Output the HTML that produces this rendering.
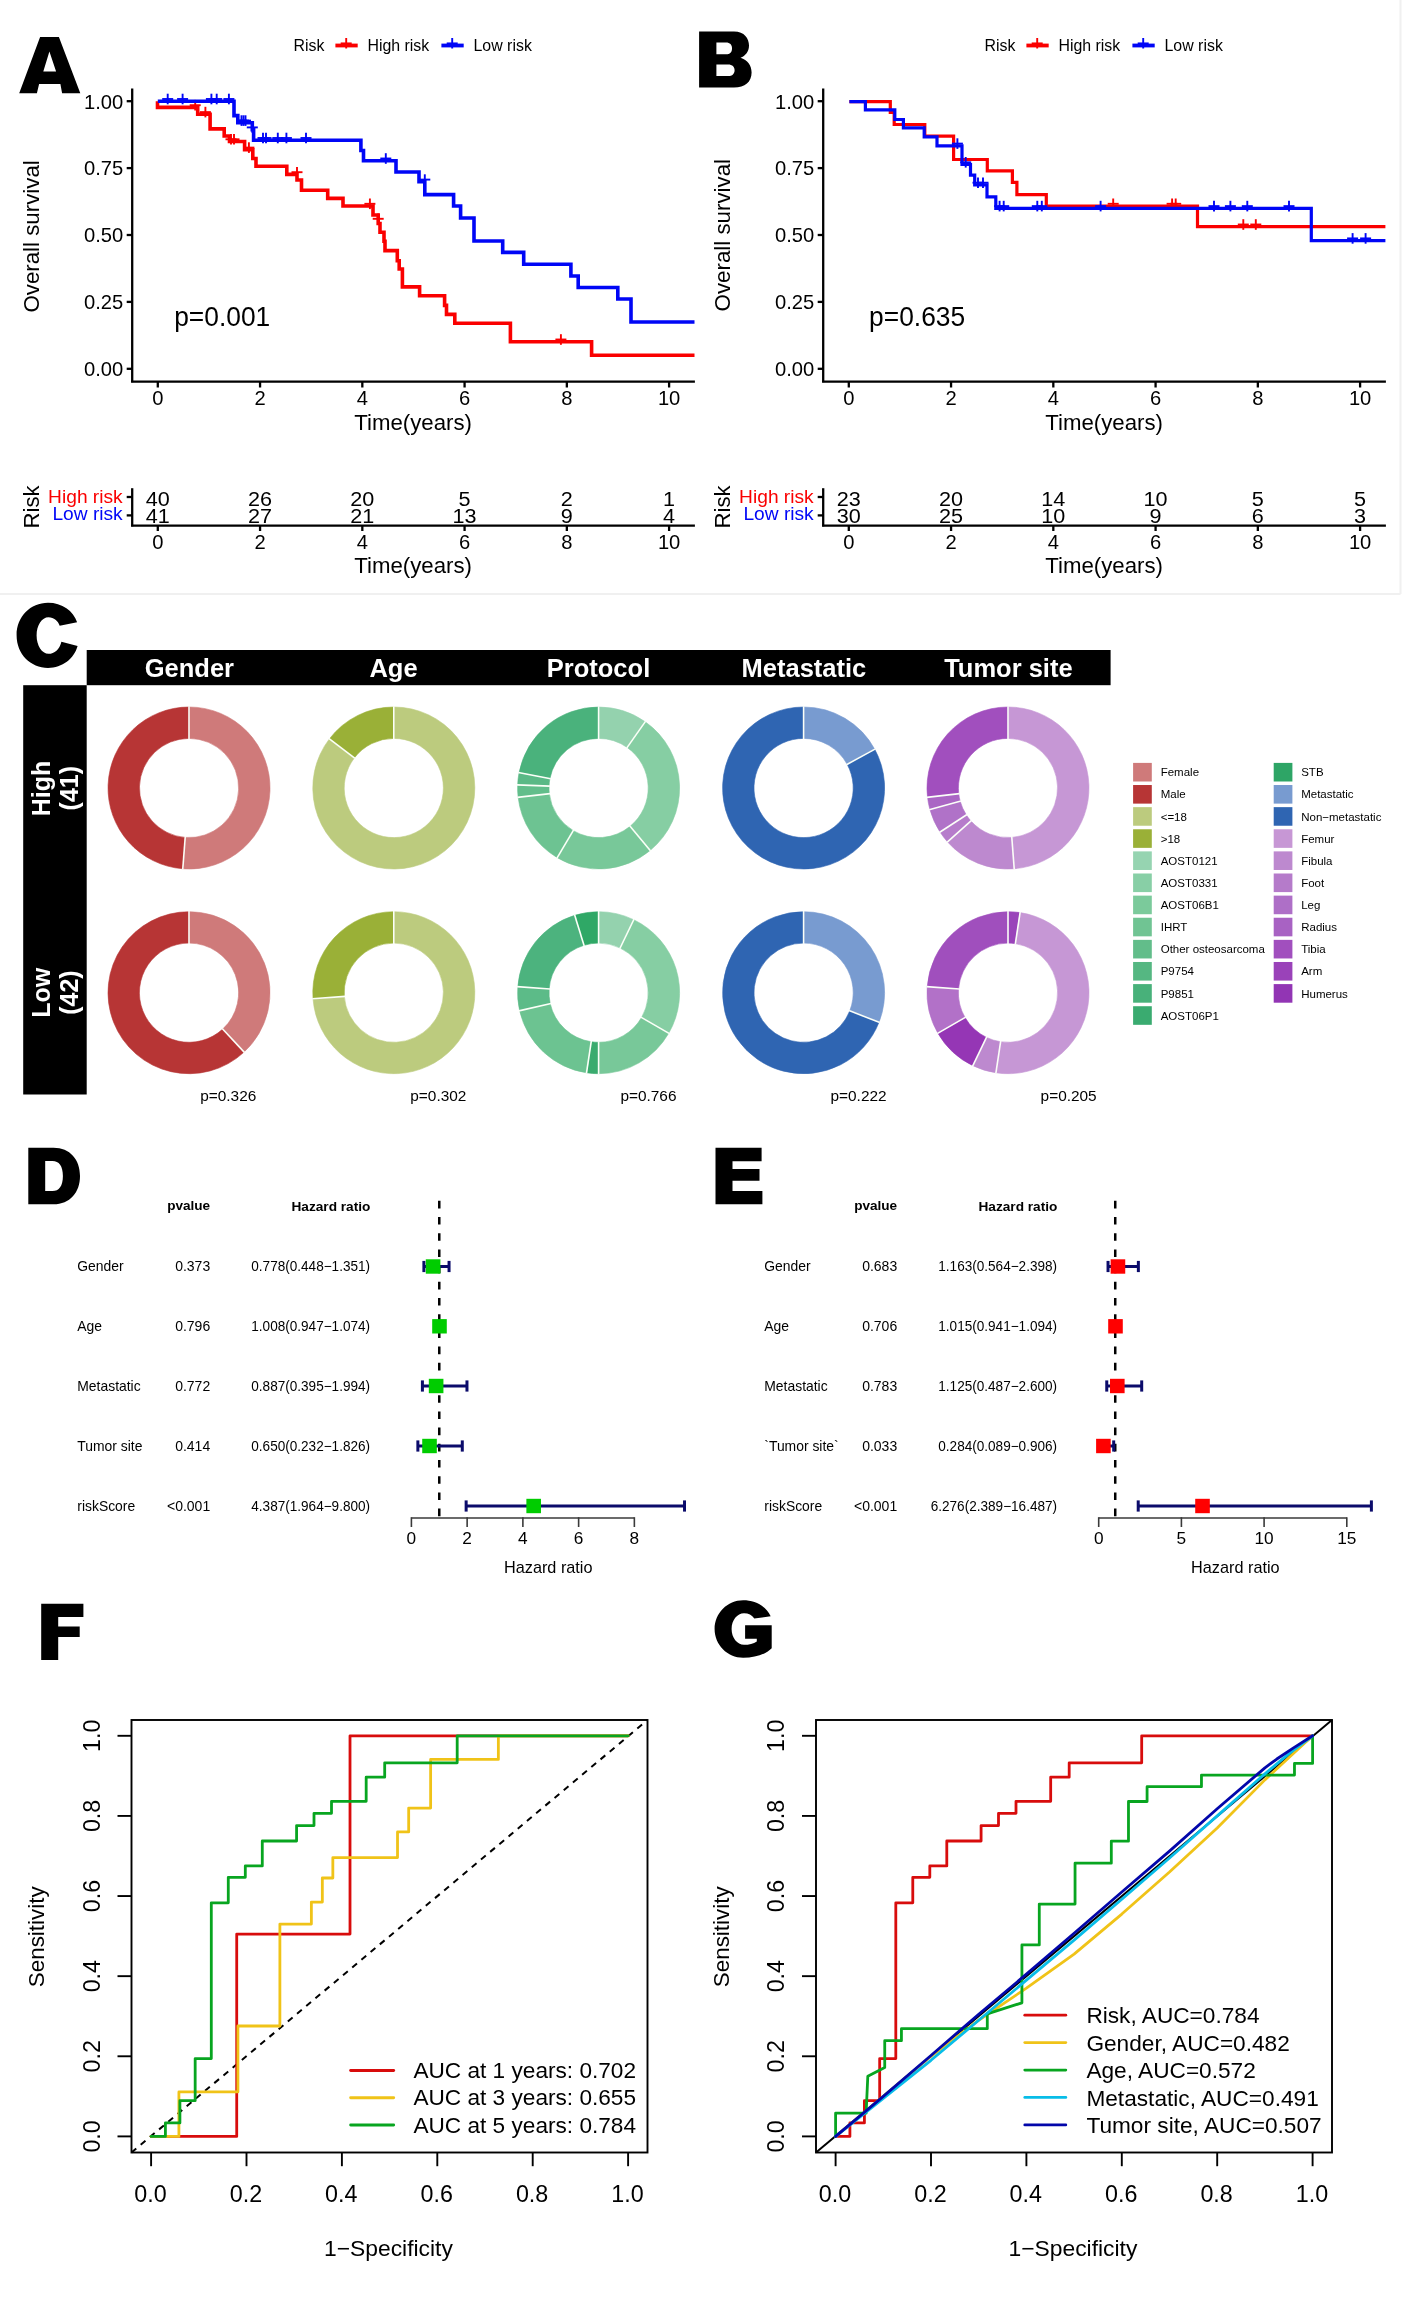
<!DOCTYPE html>
<html><head><meta charset="utf-8"><title>Figure</title>
<style>html,body{margin:0;padding:0;background:#fff;}svg{display:block;will-change:transform;}
text{font-family:"Liberation Sans",sans-serif;}</style></head>
<body><svg width="1408" height="2312" viewBox="0 0 1408 2312">
<rect width="1408" height="2312" fill="#fff"/>
<path d="M19.2,93.2 L40.1,37 L58.9,37 L80.3,93.2 L62.1,93.2 L60.4,83.9 L39.1,83.9 L36.9,93.2 Z M49.4,51.6 L43.3,71.5 L56.1,71.5 Z" fill="#000" fill-rule="evenodd"/>
<path d="M699.1,31.4 H734 C744.5,31.4 749,38.5 749,45.5 C749,51.5 745.5,55.8 740.5,57.8 C747.5,59.8 751.6,65.5 751.6,72.5 C751.6,82 745,87.5 734,87.5 H699.1 Z M716.4,42.6 V54.2 H726 C730,54.2 732,52 732,48.4 C732,44.8 730,42.6 726,42.6 Z M716.4,64.4 V76.1 H728 C732.5,76.1 734.6,73.5 734.6,70.2 C734.6,66.8 732.5,64.4 728,64.4 Z" fill="#000" fill-rule="evenodd"/>
<path d="M77.1,622.3 C73.5,611 62,602.8 48,602.8 C30.5,602.8 16.6,616.5 16.6,635.35 C16.6,654.5 30.5,667.9 48,667.9 C62.5,667.9 74,659 77.6,646.1 L61.4,641.7 C59.5,649.5 54.5,653.8 48.5,653.8 C41.9,653.8 36.6,645.6 36.6,635.5 C36.6,625.4 41.9,617.3 48.5,617.3 C54,617.3 58,621 59.7,625.7 Z" fill="#000"/>
<path d="M28.3,1147.8 H53.5 C70,1147.8 80,1159.5 80,1176 C80,1192.5 70,1204.3 53.5,1204.3 H28.3 Z M45.2,1161 V1191.1 H52.5 C59,1191.1 62.9,1186 62.9,1176 C62.9,1166 59,1161 52.5,1161 Z" fill="#000" fill-rule="evenodd"/>
<path d="M715.5,1147.8 H761.6 V1161.2 H732.5 V1169.1 H759.5 V1180.8 H732.5 V1191 H762.4 V1204.3 H715.5 Z" fill="#000"/>
<path d="M41.2,1603.8 H83.4 V1617 H58.2 V1626.6 H79.7 V1636.9 H58.2 V1660 H41.2 Z" fill="#000"/>
<path d="M770.7,1616.3 C766,1606 755,1600.3 743.15,1600.3 C727.4,1600.3 714.6,1613.2 714.6,1629.05 C714.6,1644.9 727.4,1657.8 743.15,1657.8 C756,1657.8 766,1654 771.7,1648.2 V1625.2 H745.1 V1638.7 H756.8 V1641.5 C753.5,1644 749,1644.8 744,1644.8 C737.2,1644.8 731.6,1637.8 731.6,1629 C731.6,1620.2 737.2,1613.2 744,1613.2 C748.5,1613.2 752,1615 754.3,1618.4 Z" fill="#000"/>
<line x1="132.2" y1="88.5" x2="132.2" y2="382.3" stroke="#000" stroke-width="2.3"/>
<line x1="131.1" y1="381.6" x2="694.9" y2="381.6" stroke="#000" stroke-width="2.3"/>
<line x1="126.7" y1="101.2" x2="132.2" y2="101.2" stroke="#000" stroke-width="2.3"/>
<text transform="translate(123.2,108.5) scale(1.02,1)" font-size="19.8" text-anchor="end">1.00</text>
<line x1="126.7" y1="168.1" x2="132.2" y2="168.1" stroke="#000" stroke-width="2.3"/>
<text transform="translate(123.2,175.4) scale(1.02,1)" font-size="19.8" text-anchor="end">0.75</text>
<line x1="126.7" y1="235" x2="132.2" y2="235" stroke="#000" stroke-width="2.3"/>
<text transform="translate(123.2,242.3) scale(1.02,1)" font-size="19.8" text-anchor="end">0.50</text>
<line x1="126.7" y1="301.9" x2="132.2" y2="301.9" stroke="#000" stroke-width="2.3"/>
<text transform="translate(123.2,309.2) scale(1.02,1)" font-size="19.8" text-anchor="end">0.25</text>
<line x1="126.7" y1="368.8" x2="132.2" y2="368.8" stroke="#000" stroke-width="2.3"/>
<text transform="translate(123.2,376.1) scale(1.02,1)" font-size="19.8" text-anchor="end">0.00</text>
<line x1="157.8" y1="381.6" x2="157.8" y2="387.5" stroke="#000" stroke-width="2.3"/>
<text transform="translate(157.8,404.8) scale(1.02,1)" font-size="19.8" text-anchor="middle">0</text>
<line x1="260.06" y1="381.6" x2="260.06" y2="387.5" stroke="#000" stroke-width="2.3"/>
<text transform="translate(260.06,404.8) scale(1.02,1)" font-size="19.8" text-anchor="middle">2</text>
<line x1="362.32" y1="381.6" x2="362.32" y2="387.5" stroke="#000" stroke-width="2.3"/>
<text transform="translate(362.32,404.8) scale(1.02,1)" font-size="19.8" text-anchor="middle">4</text>
<line x1="464.58" y1="381.6" x2="464.58" y2="387.5" stroke="#000" stroke-width="2.3"/>
<text transform="translate(464.58,404.8) scale(1.02,1)" font-size="19.8" text-anchor="middle">6</text>
<line x1="566.84" y1="381.6" x2="566.84" y2="387.5" stroke="#000" stroke-width="2.3"/>
<text transform="translate(566.84,404.8) scale(1.02,1)" font-size="19.8" text-anchor="middle">8</text>
<line x1="669.1" y1="381.6" x2="669.1" y2="387.5" stroke="#000" stroke-width="2.3"/>
<text transform="translate(669.1,404.8) scale(1.02,1)" font-size="19.8" text-anchor="middle">10</text>
<text transform="translate(413.05,429.9) scale(1.01,1)" font-size="22" text-anchor="middle">Time(years)</text>
<text transform="translate(38.7,236.4) rotate(-90)" font-size="22.3" text-anchor="middle">Overall survival</text>
<text transform="translate(293.5,51.3) scale(1.02,1)" font-size="15.6">Risk</text>
<line x1="335.4" y1="45.5" x2="357.7" y2="45.5" stroke="#fa0000" stroke-width="3.8"/>
<line x1="346.2" y1="38" x2="346.2" y2="48.5" stroke="#fa0000" stroke-width="1.9"/>
<line x1="340.7" y1="43.4" x2="351.7" y2="43.4" stroke="#fa0000" stroke-width="1.9"/>
<text transform="translate(367.4,51.3) scale(1.02,1)" font-size="15.6">High risk</text>
<line x1="441.4" y1="45.5" x2="463.7" y2="45.5" stroke="#0006f6" stroke-width="3.8"/>
<line x1="452.2" y1="38" x2="452.2" y2="48.5" stroke="#0006f6" stroke-width="1.9"/>
<line x1="446.7" y1="43.4" x2="457.7" y2="43.4" stroke="#0006f6" stroke-width="1.9"/>
<text transform="translate(473.5,51.3) scale(1.02,1)" font-size="15.6">Low risk</text>
<line x1="132.2" y1="488.2" x2="132.2" y2="526.4" stroke="#000" stroke-width="2.3"/>
<line x1="131.1" y1="525.7" x2="694.9" y2="525.7" stroke="#000" stroke-width="2.3"/>
<line x1="126.7" y1="497" x2="132.2" y2="497" stroke="#000" stroke-width="2.3"/>
<line x1="126.7" y1="515.4" x2="132.2" y2="515.4" stroke="#000" stroke-width="2.3"/>
<text transform="translate(122.7,503.3) scale(1.01,1)" font-size="19" text-anchor="end" fill="#fa0000">High risk</text>
<text transform="translate(122.7,520.4) scale(1.01,1)" font-size="19" text-anchor="end" fill="#0006f6">Low risk</text>
<text transform="translate(38.7,506.9) rotate(-90)" font-size="22.2" text-anchor="middle">Risk</text>
<text transform="translate(157.8,505.6) scale(1.03,1)" font-size="21" text-anchor="middle">40</text>
<text transform="translate(157.8,523.1) scale(1.03,1)" font-size="21" text-anchor="middle">41</text>
<line x1="157.8" y1="525.7" x2="157.8" y2="531" stroke="#000" stroke-width="2.3"/>
<text transform="translate(157.8,548.8) scale(1.02,1)" font-size="19.8" text-anchor="middle">0</text>
<text transform="translate(260.06,505.6) scale(1.03,1)" font-size="21" text-anchor="middle">26</text>
<text transform="translate(260.06,523.1) scale(1.03,1)" font-size="21" text-anchor="middle">27</text>
<line x1="260.06" y1="525.7" x2="260.06" y2="531" stroke="#000" stroke-width="2.3"/>
<text transform="translate(260.06,548.8) scale(1.02,1)" font-size="19.8" text-anchor="middle">2</text>
<text transform="translate(362.32,505.6) scale(1.03,1)" font-size="21" text-anchor="middle">20</text>
<text transform="translate(362.32,523.1) scale(1.03,1)" font-size="21" text-anchor="middle">21</text>
<line x1="362.32" y1="525.7" x2="362.32" y2="531" stroke="#000" stroke-width="2.3"/>
<text transform="translate(362.32,548.8) scale(1.02,1)" font-size="19.8" text-anchor="middle">4</text>
<text transform="translate(464.58,505.6) scale(1.03,1)" font-size="21" text-anchor="middle">5</text>
<text transform="translate(464.58,523.1) scale(1.03,1)" font-size="21" text-anchor="middle">13</text>
<line x1="464.58" y1="525.7" x2="464.58" y2="531" stroke="#000" stroke-width="2.3"/>
<text transform="translate(464.58,548.8) scale(1.02,1)" font-size="19.8" text-anchor="middle">6</text>
<text transform="translate(566.84,505.6) scale(1.03,1)" font-size="21" text-anchor="middle">2</text>
<text transform="translate(566.84,523.1) scale(1.03,1)" font-size="21" text-anchor="middle">9</text>
<line x1="566.84" y1="525.7" x2="566.84" y2="531" stroke="#000" stroke-width="2.3"/>
<text transform="translate(566.84,548.8) scale(1.02,1)" font-size="19.8" text-anchor="middle">8</text>
<text transform="translate(669.1,505.6) scale(1.03,1)" font-size="21" text-anchor="middle">1</text>
<text transform="translate(669.1,523.1) scale(1.03,1)" font-size="21" text-anchor="middle">4</text>
<line x1="669.1" y1="525.7" x2="669.1" y2="531" stroke="#000" stroke-width="2.3"/>
<text transform="translate(669.1,548.8) scale(1.02,1)" font-size="19.8" text-anchor="middle">10</text>
<text transform="translate(413.05,572.6) scale(1.01,1)" font-size="22" text-anchor="middle">Time(years)</text>
<text transform="translate(174.2,325.6) scale(0.97,1)" font-size="27.2">p=0.001</text>
<polyline points="157.5,101.2 157.5,107.4 197.7,107.4 197.7,114.3 210.1,114.3 210.1,128.9 224.2,128.9 224.2,136 229.5,136 229.5,141.5 244.6,141.5 244.6,149.8 252.8,149.8 252.8,158.5 256,158.5 256,166.3 286.8,166.3 286.8,174.4 297,174.4 297,180 301.5,180 301.5,190.3 327.7,190.3 327.7,198.4 343,198.4 343,206 373,206 373,215 378.2,215 378.2,223.5 380,223.5 380,232.3 384,232.3 384,241.2 385,241.2 385,250.6 397.3,250.6 397.3,260.7 399.2,260.7 399.2,269 402.4,269 402.4,286.9 419.6,286.9 419.6,295.8 444.6,295.8 444.6,305.4 446.5,305.4 446.5,314.4 454.8,314.4 454.8,323.3 510.4,323.3 510.4,341.7 591.6,341.7 591.6,355.3 694.5,355.3 694.5,355.3" fill="none" stroke="#fa0000" stroke-width="3.6" stroke-linejoin="miter"/>
<line x1="195.2" y1="99.9" x2="195.2" y2="110.5" stroke="#fa0000" stroke-width="1.9"/>
<line x1="189.7" y1="105.2" x2="200.7" y2="105.2" stroke="#fa0000" stroke-width="1.9"/>
<line x1="205.4" y1="106.8" x2="205.4" y2="117.4" stroke="#fa0000" stroke-width="1.9"/>
<line x1="199.9" y1="112.1" x2="210.9" y2="112.1" stroke="#fa0000" stroke-width="1.9"/>
<line x1="231" y1="134" x2="231" y2="144.6" stroke="#fa0000" stroke-width="1.9"/>
<line x1="225.5" y1="139.3" x2="236.5" y2="139.3" stroke="#fa0000" stroke-width="1.9"/>
<line x1="234" y1="134" x2="234" y2="144.6" stroke="#fa0000" stroke-width="1.9"/>
<line x1="228.5" y1="139.3" x2="239.5" y2="139.3" stroke="#fa0000" stroke-width="1.9"/>
<line x1="248.9" y1="142.3" x2="248.9" y2="152.9" stroke="#fa0000" stroke-width="1.9"/>
<line x1="243.4" y1="147.6" x2="254.4" y2="147.6" stroke="#fa0000" stroke-width="1.9"/>
<line x1="297" y1="166.9" x2="297" y2="177.5" stroke="#fa0000" stroke-width="1.9"/>
<line x1="291.5" y1="172.2" x2="302.5" y2="172.2" stroke="#fa0000" stroke-width="1.9"/>
<line x1="369.9" y1="198.5" x2="369.9" y2="209.1" stroke="#fa0000" stroke-width="1.9"/>
<line x1="364.4" y1="203.8" x2="375.4" y2="203.8" stroke="#fa0000" stroke-width="1.9"/>
<line x1="378.2" y1="213.5" x2="378.2" y2="224.1" stroke="#fa0000" stroke-width="1.9"/>
<line x1="372.7" y1="218.8" x2="383.7" y2="218.8" stroke="#fa0000" stroke-width="1.9"/>
<line x1="560.9" y1="334.2" x2="560.9" y2="344.8" stroke="#fa0000" stroke-width="1.9"/>
<line x1="555.4" y1="339.5" x2="566.4" y2="339.5" stroke="#fa0000" stroke-width="1.9"/>
<polyline points="157.8,101.2 234,101.2 234,115.6 237.8,115.6 237.8,122.8 252.3,122.8 252.3,129.6 253.6,129.6 253.6,140.2 360.9,140.2 360.9,150.5 363.5,150.5 363.5,160.7 396,160.7 396,172 419,172 419,181.8 424.8,181.8 424.8,194.6 453.6,194.6 453.6,206 460.6,206 460.6,218 474,218 474,241 502.7,241 502.7,252.4 523.7,252.4 523.7,264.2 570.9,264.2 570.9,276 578.2,276 578.2,287.5 617.8,287.5 617.8,299 631,299 631,322 694.5,322 694.5,322" fill="none" stroke="#0006f6" stroke-width="3.6" stroke-linejoin="miter"/>
<line x1="167.7" y1="93.7" x2="167.7" y2="104.3" stroke="#0006f6" stroke-width="1.9"/>
<line x1="162.2" y1="99" x2="173.2" y2="99" stroke="#0006f6" stroke-width="1.9"/>
<line x1="182.6" y1="93.7" x2="182.6" y2="104.3" stroke="#0006f6" stroke-width="1.9"/>
<line x1="177.1" y1="99" x2="188.1" y2="99" stroke="#0006f6" stroke-width="1.9"/>
<line x1="211.4" y1="93.7" x2="211.4" y2="104.3" stroke="#0006f6" stroke-width="1.9"/>
<line x1="205.9" y1="99" x2="216.9" y2="99" stroke="#0006f6" stroke-width="1.9"/>
<line x1="216.7" y1="93.7" x2="216.7" y2="104.3" stroke="#0006f6" stroke-width="1.9"/>
<line x1="211.2" y1="99" x2="222.2" y2="99" stroke="#0006f6" stroke-width="1.9"/>
<line x1="228.9" y1="93.7" x2="228.9" y2="104.3" stroke="#0006f6" stroke-width="1.9"/>
<line x1="223.4" y1="99" x2="234.4" y2="99" stroke="#0006f6" stroke-width="1.9"/>
<line x1="241.5" y1="115.3" x2="241.5" y2="125.9" stroke="#0006f6" stroke-width="1.9"/>
<line x1="236" y1="120.6" x2="247" y2="120.6" stroke="#0006f6" stroke-width="1.9"/>
<line x1="243.5" y1="115.3" x2="243.5" y2="125.9" stroke="#0006f6" stroke-width="1.9"/>
<line x1="238" y1="120.6" x2="249" y2="120.6" stroke="#0006f6" stroke-width="1.9"/>
<line x1="245.5" y1="115.3" x2="245.5" y2="125.9" stroke="#0006f6" stroke-width="1.9"/>
<line x1="240" y1="120.6" x2="251" y2="120.6" stroke="#0006f6" stroke-width="1.9"/>
<line x1="252.3" y1="122.1" x2="252.3" y2="132.7" stroke="#0006f6" stroke-width="1.9"/>
<line x1="246.8" y1="127.4" x2="257.8" y2="127.4" stroke="#0006f6" stroke-width="1.9"/>
<line x1="263" y1="132.7" x2="263" y2="143.3" stroke="#0006f6" stroke-width="1.9"/>
<line x1="257.5" y1="138" x2="268.5" y2="138" stroke="#0006f6" stroke-width="1.9"/>
<line x1="266" y1="132.7" x2="266" y2="143.3" stroke="#0006f6" stroke-width="1.9"/>
<line x1="260.5" y1="138" x2="271.5" y2="138" stroke="#0006f6" stroke-width="1.9"/>
<line x1="277.8" y1="132.7" x2="277.8" y2="143.3" stroke="#0006f6" stroke-width="1.9"/>
<line x1="272.3" y1="138" x2="283.3" y2="138" stroke="#0006f6" stroke-width="1.9"/>
<line x1="286.4" y1="132.7" x2="286.4" y2="143.3" stroke="#0006f6" stroke-width="1.9"/>
<line x1="280.9" y1="138" x2="291.9" y2="138" stroke="#0006f6" stroke-width="1.9"/>
<line x1="306" y1="132.7" x2="306" y2="143.3" stroke="#0006f6" stroke-width="1.9"/>
<line x1="300.5" y1="138" x2="311.5" y2="138" stroke="#0006f6" stroke-width="1.9"/>
<line x1="385.8" y1="153.2" x2="385.8" y2="163.8" stroke="#0006f6" stroke-width="1.9"/>
<line x1="380.3" y1="158.5" x2="391.3" y2="158.5" stroke="#0006f6" stroke-width="1.9"/>
<line x1="424.8" y1="174.3" x2="424.8" y2="184.9" stroke="#0006f6" stroke-width="1.9"/>
<line x1="419.3" y1="179.6" x2="430.3" y2="179.6" stroke="#0006f6" stroke-width="1.9"/>
<line x1="823.2" y1="88.5" x2="823.2" y2="382.3" stroke="#000" stroke-width="2.3"/>
<line x1="822.1" y1="381.6" x2="1385.9" y2="381.6" stroke="#000" stroke-width="2.3"/>
<line x1="817.7" y1="101.2" x2="823.2" y2="101.2" stroke="#000" stroke-width="2.3"/>
<text transform="translate(814.2,108.5) scale(1.02,1)" font-size="19.8" text-anchor="end">1.00</text>
<line x1="817.7" y1="168.1" x2="823.2" y2="168.1" stroke="#000" stroke-width="2.3"/>
<text transform="translate(814.2,175.4) scale(1.02,1)" font-size="19.8" text-anchor="end">0.75</text>
<line x1="817.7" y1="235" x2="823.2" y2="235" stroke="#000" stroke-width="2.3"/>
<text transform="translate(814.2,242.3) scale(1.02,1)" font-size="19.8" text-anchor="end">0.50</text>
<line x1="817.7" y1="301.9" x2="823.2" y2="301.9" stroke="#000" stroke-width="2.3"/>
<text transform="translate(814.2,309.2) scale(1.02,1)" font-size="19.8" text-anchor="end">0.25</text>
<line x1="817.7" y1="368.8" x2="823.2" y2="368.8" stroke="#000" stroke-width="2.3"/>
<text transform="translate(814.2,376.1) scale(1.02,1)" font-size="19.8" text-anchor="end">0.00</text>
<line x1="848.8" y1="381.6" x2="848.8" y2="387.5" stroke="#000" stroke-width="2.3"/>
<text transform="translate(848.8,404.8) scale(1.02,1)" font-size="19.8" text-anchor="middle">0</text>
<line x1="951.06" y1="381.6" x2="951.06" y2="387.5" stroke="#000" stroke-width="2.3"/>
<text transform="translate(951.06,404.8) scale(1.02,1)" font-size="19.8" text-anchor="middle">2</text>
<line x1="1053.32" y1="381.6" x2="1053.32" y2="387.5" stroke="#000" stroke-width="2.3"/>
<text transform="translate(1053.32,404.8) scale(1.02,1)" font-size="19.8" text-anchor="middle">4</text>
<line x1="1155.58" y1="381.6" x2="1155.58" y2="387.5" stroke="#000" stroke-width="2.3"/>
<text transform="translate(1155.58,404.8) scale(1.02,1)" font-size="19.8" text-anchor="middle">6</text>
<line x1="1257.84" y1="381.6" x2="1257.84" y2="387.5" stroke="#000" stroke-width="2.3"/>
<text transform="translate(1257.84,404.8) scale(1.02,1)" font-size="19.8" text-anchor="middle">8</text>
<line x1="1360.1" y1="381.6" x2="1360.1" y2="387.5" stroke="#000" stroke-width="2.3"/>
<text transform="translate(1360.1,404.8) scale(1.02,1)" font-size="19.8" text-anchor="middle">10</text>
<text transform="translate(1104.05,429.9) scale(1.01,1)" font-size="22" text-anchor="middle">Time(years)</text>
<text transform="translate(729.7,235.2) rotate(-90)" font-size="22.3" text-anchor="middle">Overall survival</text>
<text transform="translate(984.5,51.3) scale(1.02,1)" font-size="15.6">Risk</text>
<line x1="1026.4" y1="45.5" x2="1048.7" y2="45.5" stroke="#fa0000" stroke-width="3.8"/>
<line x1="1037.2" y1="38" x2="1037.2" y2="48.5" stroke="#fa0000" stroke-width="1.9"/>
<line x1="1031.7" y1="43.4" x2="1042.7" y2="43.4" stroke="#fa0000" stroke-width="1.9"/>
<text transform="translate(1058.4,51.3) scale(1.02,1)" font-size="15.6">High risk</text>
<line x1="1132.4" y1="45.5" x2="1154.7" y2="45.5" stroke="#0006f6" stroke-width="3.8"/>
<line x1="1143.2" y1="38" x2="1143.2" y2="48.5" stroke="#0006f6" stroke-width="1.9"/>
<line x1="1137.7" y1="43.4" x2="1148.7" y2="43.4" stroke="#0006f6" stroke-width="1.9"/>
<text transform="translate(1164.5,51.3) scale(1.02,1)" font-size="15.6">Low risk</text>
<line x1="823.2" y1="488.2" x2="823.2" y2="526.4" stroke="#000" stroke-width="2.3"/>
<line x1="822.1" y1="525.7" x2="1385.9" y2="525.7" stroke="#000" stroke-width="2.3"/>
<line x1="817.7" y1="497" x2="823.2" y2="497" stroke="#000" stroke-width="2.3"/>
<line x1="817.7" y1="515.4" x2="823.2" y2="515.4" stroke="#000" stroke-width="2.3"/>
<text transform="translate(813.7,503.3) scale(1.01,1)" font-size="19" text-anchor="end" fill="#fa0000">High risk</text>
<text transform="translate(813.7,520.4) scale(1.01,1)" font-size="19" text-anchor="end" fill="#0006f6">Low risk</text>
<text transform="translate(729.7,506.9) rotate(-90)" font-size="22.2" text-anchor="middle">Risk</text>
<text transform="translate(848.8,505.6) scale(1.03,1)" font-size="21" text-anchor="middle">23</text>
<text transform="translate(848.8,523.1) scale(1.03,1)" font-size="21" text-anchor="middle">30</text>
<line x1="848.8" y1="525.7" x2="848.8" y2="531" stroke="#000" stroke-width="2.3"/>
<text transform="translate(848.8,548.8) scale(1.02,1)" font-size="19.8" text-anchor="middle">0</text>
<text transform="translate(951.06,505.6) scale(1.03,1)" font-size="21" text-anchor="middle">20</text>
<text transform="translate(951.06,523.1) scale(1.03,1)" font-size="21" text-anchor="middle">25</text>
<line x1="951.06" y1="525.7" x2="951.06" y2="531" stroke="#000" stroke-width="2.3"/>
<text transform="translate(951.06,548.8) scale(1.02,1)" font-size="19.8" text-anchor="middle">2</text>
<text transform="translate(1053.32,505.6) scale(1.03,1)" font-size="21" text-anchor="middle">14</text>
<text transform="translate(1053.32,523.1) scale(1.03,1)" font-size="21" text-anchor="middle">10</text>
<line x1="1053.32" y1="525.7" x2="1053.32" y2="531" stroke="#000" stroke-width="2.3"/>
<text transform="translate(1053.32,548.8) scale(1.02,1)" font-size="19.8" text-anchor="middle">4</text>
<text transform="translate(1155.58,505.6) scale(1.03,1)" font-size="21" text-anchor="middle">10</text>
<text transform="translate(1155.58,523.1) scale(1.03,1)" font-size="21" text-anchor="middle">9</text>
<line x1="1155.58" y1="525.7" x2="1155.58" y2="531" stroke="#000" stroke-width="2.3"/>
<text transform="translate(1155.58,548.8) scale(1.02,1)" font-size="19.8" text-anchor="middle">6</text>
<text transform="translate(1257.84,505.6) scale(1.03,1)" font-size="21" text-anchor="middle">5</text>
<text transform="translate(1257.84,523.1) scale(1.03,1)" font-size="21" text-anchor="middle">6</text>
<line x1="1257.84" y1="525.7" x2="1257.84" y2="531" stroke="#000" stroke-width="2.3"/>
<text transform="translate(1257.84,548.8) scale(1.02,1)" font-size="19.8" text-anchor="middle">8</text>
<text transform="translate(1360.1,505.6) scale(1.03,1)" font-size="21" text-anchor="middle">5</text>
<text transform="translate(1360.1,523.1) scale(1.03,1)" font-size="21" text-anchor="middle">3</text>
<line x1="1360.1" y1="525.7" x2="1360.1" y2="531" stroke="#000" stroke-width="2.3"/>
<text transform="translate(1360.1,548.8) scale(1.02,1)" font-size="19.8" text-anchor="middle">10</text>
<text transform="translate(1104.05,572.6) scale(1.01,1)" font-size="22" text-anchor="middle">Time(years)</text>
<text transform="translate(869.1,325.6) scale(0.97,1)" font-size="27.2">p=0.635</text>
<polyline points="849.4,101.6 890.3,101.6 890.3,112.5 894.2,112.5 894.2,124.5 924.8,124.5 924.8,136.1 953.6,136.1 953.6,159.5 987.3,159.5 987.3,170.9 1012.4,170.9 1012.4,182.4 1016.9,182.4 1016.9,194.6 1046.3,194.6 1046.3,206 1197.5,206 1197.5,226.7 1385.4,226.7 1385.4,226.7" fill="none" stroke="#fa0000" stroke-width="3.2"/>
<line x1="1113.2" y1="198.5" x2="1113.2" y2="209.1" stroke="#fa0000" stroke-width="1.9"/>
<line x1="1107.7" y1="203.8" x2="1118.7" y2="203.8" stroke="#fa0000" stroke-width="1.9"/>
<line x1="1172.1" y1="198.5" x2="1172.1" y2="209.1" stroke="#fa0000" stroke-width="1.9"/>
<line x1="1166.6" y1="203.8" x2="1177.6" y2="203.8" stroke="#fa0000" stroke-width="1.9"/>
<line x1="1175.7" y1="198.5" x2="1175.7" y2="209.1" stroke="#fa0000" stroke-width="1.9"/>
<line x1="1170.2" y1="203.8" x2="1181.2" y2="203.8" stroke="#fa0000" stroke-width="1.9"/>
<line x1="1243.3" y1="219.2" x2="1243.3" y2="229.8" stroke="#fa0000" stroke-width="1.9"/>
<line x1="1237.8" y1="224.5" x2="1248.8" y2="224.5" stroke="#fa0000" stroke-width="1.9"/>
<line x1="1255.8" y1="219.2" x2="1255.8" y2="229.8" stroke="#fa0000" stroke-width="1.9"/>
<line x1="1250.3" y1="224.5" x2="1261.3" y2="224.5" stroke="#fa0000" stroke-width="1.9"/>
<polyline points="849.4,101.6 865.4,101.6 865.4,109.9 894.8,109.9 894.8,119.5 903.4,119.5 903.4,127.8 924.2,127.8 924.2,136.8 937,136.8 937,145.8 962,145.8 962,164.5 970.5,164.5 970.5,175.2 974.7,175.2 974.7,184.9 987,184.9 987,196.8 995.8,196.8 995.8,208.3 1311.3,208.3 1311.3,240.6 1385.4,240.6 1385.4,240.6" fill="none" stroke="#0006f6" stroke-width="3.2"/>
<line x1="957.4" y1="138.3" x2="957.4" y2="148.9" stroke="#0006f6" stroke-width="1.9"/>
<line x1="951.9" y1="143.6" x2="962.9" y2="143.6" stroke="#0006f6" stroke-width="1.9"/>
<line x1="965.7" y1="157" x2="965.7" y2="167.6" stroke="#0006f6" stroke-width="1.9"/>
<line x1="960.2" y1="162.3" x2="971.2" y2="162.3" stroke="#0006f6" stroke-width="1.9"/>
<line x1="978" y1="177.4" x2="978" y2="188" stroke="#0006f6" stroke-width="1.9"/>
<line x1="972.5" y1="182.7" x2="983.5" y2="182.7" stroke="#0006f6" stroke-width="1.9"/>
<line x1="983" y1="177.4" x2="983" y2="188" stroke="#0006f6" stroke-width="1.9"/>
<line x1="977.5" y1="182.7" x2="988.5" y2="182.7" stroke="#0006f6" stroke-width="1.9"/>
<line x1="999.6" y1="200.8" x2="999.6" y2="211.4" stroke="#0006f6" stroke-width="1.9"/>
<line x1="994.1" y1="206.1" x2="1005.1" y2="206.1" stroke="#0006f6" stroke-width="1.9"/>
<line x1="1003.7" y1="200.8" x2="1003.7" y2="211.4" stroke="#0006f6" stroke-width="1.9"/>
<line x1="998.2" y1="206.1" x2="1009.2" y2="206.1" stroke="#0006f6" stroke-width="1.9"/>
<line x1="1037.3" y1="200.8" x2="1037.3" y2="211.4" stroke="#0006f6" stroke-width="1.9"/>
<line x1="1031.8" y1="206.1" x2="1042.8" y2="206.1" stroke="#0006f6" stroke-width="1.9"/>
<line x1="1041.8" y1="200.8" x2="1041.8" y2="211.4" stroke="#0006f6" stroke-width="1.9"/>
<line x1="1036.3" y1="206.1" x2="1047.3" y2="206.1" stroke="#0006f6" stroke-width="1.9"/>
<line x1="1100.6" y1="200.8" x2="1100.6" y2="211.4" stroke="#0006f6" stroke-width="1.9"/>
<line x1="1095.1" y1="206.1" x2="1106.1" y2="206.1" stroke="#0006f6" stroke-width="1.9"/>
<line x1="1214" y1="200.8" x2="1214" y2="211.4" stroke="#0006f6" stroke-width="1.9"/>
<line x1="1208.5" y1="206.1" x2="1219.5" y2="206.1" stroke="#0006f6" stroke-width="1.9"/>
<line x1="1230.4" y1="200.8" x2="1230.4" y2="211.4" stroke="#0006f6" stroke-width="1.9"/>
<line x1="1224.9" y1="206.1" x2="1235.9" y2="206.1" stroke="#0006f6" stroke-width="1.9"/>
<line x1="1247.3" y1="200.8" x2="1247.3" y2="211.4" stroke="#0006f6" stroke-width="1.9"/>
<line x1="1241.8" y1="206.1" x2="1252.8" y2="206.1" stroke="#0006f6" stroke-width="1.9"/>
<line x1="1289" y1="200.8" x2="1289" y2="211.4" stroke="#0006f6" stroke-width="1.9"/>
<line x1="1283.5" y1="206.1" x2="1294.5" y2="206.1" stroke="#0006f6" stroke-width="1.9"/>
<line x1="1352.6" y1="233.1" x2="1352.6" y2="243.7" stroke="#0006f6" stroke-width="1.9"/>
<line x1="1347.1" y1="238.4" x2="1358.1" y2="238.4" stroke="#0006f6" stroke-width="1.9"/>
<line x1="1365.6" y1="233.1" x2="1365.6" y2="243.7" stroke="#0006f6" stroke-width="1.9"/>
<line x1="1360.1" y1="238.4" x2="1371.1" y2="238.4" stroke="#0006f6" stroke-width="1.9"/>
<line x1="0" y1="593.9" x2="1400.5" y2="593.9" stroke="#f0f0f0" stroke-width="2"/>
<line x1="1400.5" y1="0" x2="1400.5" y2="593.9" stroke="#f0f0f0" stroke-width="2"/>
<path d="M189,707 A81,81 0 1 1 182.8,868.76 L185.2,837.45 A49.6,49.6 0 1 0 189,738.4 Z" fill="#cf7a7a" stroke="#cf7a7a" stroke-width="0.6"/>
<path d="M182.8,868.76 A81,81 0 0 1 189,707 L189,738.4 A49.6,49.6 0 0 0 185.2,837.45 Z" fill="#b73535" stroke="#b73535" stroke-width="0.6"/>
<line x1="189" y1="706.2" x2="189" y2="739.2" stroke="#fbfff8" stroke-width="1.6"/>
<line x1="182.74" y1="869.56" x2="185.26" y2="836.66" stroke="#fbfff8" stroke-width="1.6"/>
<path d="M393.8,707 A81,81 0 1 1 329.38,738.9 L354.35,757.93 A49.6,49.6 0 1 0 393.8,738.4 Z" fill="#bccb7e" stroke="#bccb7e" stroke-width="0.6"/>
<path d="M329.38,738.9 A81,81 0 0 1 393.8,707 L393.8,738.4 A49.6,49.6 0 0 0 354.35,757.93 Z" fill="#9ab037" stroke="#9ab037" stroke-width="0.6"/>
<line x1="393.8" y1="706.2" x2="393.8" y2="739.2" stroke="#fbfff8" stroke-width="1.6"/>
<line x1="328.75" y1="738.41" x2="354.99" y2="758.42" stroke="#fbfff8" stroke-width="1.6"/>
<path d="M598.6,707 A81,81 0 0 1 645.2,721.75 L627.14,747.43 A49.6,49.6 0 0 0 598.6,738.4 Z" fill="#94d2ae" stroke="#94d2ae" stroke-width="0.6"/>
<path d="M645.2,721.75 A81,81 0 0 1 650.14,850.49 L630.16,826.27 A49.6,49.6 0 0 0 627.14,747.43 Z" fill="#86cea3" stroke="#86cea3" stroke-width="0.6"/>
<path d="M650.14,850.49 A81,81 0 0 1 557.21,857.63 L573.25,830.63 A49.6,49.6 0 0 0 630.16,826.27 Z" fill="#78c899" stroke="#78c899" stroke-width="0.6"/>
<path d="M557.21,857.63 A81,81 0 0 1 518.13,797.29 L549.33,793.69 A49.6,49.6 0 0 0 573.25,830.63 Z" fill="#6dc392" stroke="#6dc392" stroke-width="0.6"/>
<path d="M518.13,797.29 A81,81 0 0 1 517.66,784.9 L549.04,786.1 A49.6,49.6 0 0 0 549.33,793.69 Z" fill="#62be8b" stroke="#62be8b" stroke-width="0.6"/>
<path d="M517.66,784.9 A81,81 0 0 1 519.08,772.58 L549.91,778.56 A49.6,49.6 0 0 0 549.04,786.1 Z" fill="#5ab986" stroke="#5ab986" stroke-width="0.6"/>
<path d="M519.08,772.58 A81,81 0 0 1 598.6,707 L598.6,738.4 A49.6,49.6 0 0 0 549.91,778.56 Z" fill="#4ab27c" stroke="#4ab27c" stroke-width="0.6"/>
<line x1="598.6" y1="706.2" x2="598.6" y2="739.2" stroke="#fbfff8" stroke-width="1.6"/>
<line x1="645.66" y1="721.09" x2="626.68" y2="748.09" stroke="#fbfff8" stroke-width="1.6"/>
<line x1="650.64" y1="851.11" x2="629.65" y2="825.65" stroke="#fbfff8" stroke-width="1.6"/>
<line x1="556.8" y1="858.31" x2="573.66" y2="829.95" stroke="#fbfff8" stroke-width="1.6"/>
<line x1="517.34" y1="797.38" x2="550.12" y2="793.6" stroke="#fbfff8" stroke-width="1.6"/>
<line x1="516.86" y1="784.87" x2="549.84" y2="786.13" stroke="#fbfff8" stroke-width="1.6"/>
<line x1="518.3" y1="772.43" x2="550.69" y2="778.71" stroke="#fbfff8" stroke-width="1.6"/>
<path d="M803.6,707 A81,81 0 0 1 874.76,749.3 L847.17,764.31 A49.6,49.6 0 0 0 803.6,738.4 Z" fill="#789bd0" stroke="#789bd0" stroke-width="0.6"/>
<path d="M874.76,749.3 A81,81 0 1 1 803.6,707 L803.6,738.4 A49.6,49.6 0 1 0 847.17,764.31 Z" fill="#2f65b2" stroke="#2f65b2" stroke-width="0.6"/>
<line x1="803.6" y1="706.2" x2="803.6" y2="739.2" stroke="#fbfff8" stroke-width="1.6"/>
<line x1="875.46" y1="748.92" x2="846.47" y2="764.69" stroke="#fbfff8" stroke-width="1.6"/>
<path d="M1008,707 A81,81 0 0 1 1014.2,868.76 L1011.8,837.45 A49.6,49.6 0 0 0 1008,738.4 Z" fill="#c697d5" stroke="#c697d5" stroke-width="0.6"/>
<path d="M1014.2,868.76 A81,81 0 0 1 947.53,841.89 L970.97,821 A49.6,49.6 0 0 0 1011.8,837.45 Z" fill="#bd89cf" stroke="#bd89cf" stroke-width="0.6"/>
<path d="M947.53,841.89 A81,81 0 0 1 940.01,832.03 L966.37,814.96 A49.6,49.6 0 0 0 970.97,821 Z" fill="#b67ccb" stroke="#b67ccb" stroke-width="0.6"/>
<path d="M940.01,832.03 A81,81 0 0 1 929.9,809.46 L960.17,801.14 A49.6,49.6 0 0 0 966.37,814.96 Z" fill="#b072c8" stroke="#b072c8" stroke-width="0.6"/>
<path d="M929.9,809.46 A81,81 0 0 1 927.53,797.29 L958.73,793.69 A49.6,49.6 0 0 0 960.17,801.14 Z" fill="#aa66c4" stroke="#aa66c4" stroke-width="0.6"/>
<path d="M927.53,797.29 A81,81 0 0 1 1008,707 L1008,738.4 A49.6,49.6 0 0 0 958.73,793.69 Z" fill="#a14fbe" stroke="#a14fbe" stroke-width="0.6"/>
<line x1="1008" y1="706.2" x2="1008" y2="739.2" stroke="#fbfff8" stroke-width="1.6"/>
<line x1="1014.26" y1="869.56" x2="1011.74" y2="836.66" stroke="#fbfff8" stroke-width="1.6"/>
<line x1="946.93" y1="842.42" x2="971.57" y2="820.47" stroke="#fbfff8" stroke-width="1.6"/>
<line x1="939.34" y1="832.46" x2="967.04" y2="814.53" stroke="#fbfff8" stroke-width="1.6"/>
<line x1="929.12" y1="809.68" x2="960.94" y2="800.93" stroke="#fbfff8" stroke-width="1.6"/>
<line x1="926.74" y1="797.38" x2="959.52" y2="793.6" stroke="#fbfff8" stroke-width="1.6"/>
<path d="M189,911.7 A81,81 0 0 1 244.09,1052.08 L222.74,1029.06 A49.6,49.6 0 0 0 189,943.1 Z" fill="#cf7a7a" stroke="#cf7a7a" stroke-width="0.6"/>
<path d="M244.09,1052.08 A81,81 0 1 1 189,911.7 L189,943.1 A49.6,49.6 0 1 0 222.74,1029.06 Z" fill="#b73535" stroke="#b73535" stroke-width="0.6"/>
<line x1="189" y1="910.9" x2="189" y2="943.9" stroke="#fbfff8" stroke-width="1.6"/>
<line x1="244.64" y1="1052.66" x2="222.19" y2="1028.47" stroke="#fbfff8" stroke-width="1.6"/>
<path d="M393.8,911.7 A81,81 0 1 1 313.03,998.75 L344.34,996.41 A49.6,49.6 0 1 0 393.8,943.1 Z" fill="#bccb7e" stroke="#bccb7e" stroke-width="0.6"/>
<path d="M313.03,998.75 A81,81 0 0 1 393.8,911.7 L393.8,943.1 A49.6,49.6 0 0 0 344.34,996.41 Z" fill="#9ab037" stroke="#9ab037" stroke-width="0.6"/>
<line x1="393.8" y1="910.9" x2="393.8" y2="943.9" stroke="#fbfff8" stroke-width="1.6"/>
<line x1="312.23" y1="998.81" x2="345.14" y2="996.35" stroke="#fbfff8" stroke-width="1.6"/>
<path d="M598.6,911.7 A81,81 0 0 1 633.74,919.72 L620.12,948.01 A49.6,49.6 0 0 0 598.6,943.1 Z" fill="#94d2ae" stroke="#94d2ae" stroke-width="0.6"/>
<path d="M633.74,919.72 A81,81 0 0 1 668.75,1033.2 L641.55,1017.5 A49.6,49.6 0 0 0 620.12,948.01 Z" fill="#86cea3" stroke="#86cea3" stroke-width="0.6"/>
<path d="M668.75,1033.2 A81,81 0 0 1 598.6,1073.7 L598.6,1042.3 A49.6,49.6 0 0 0 641.55,1017.5 Z" fill="#78c899" stroke="#78c899" stroke-width="0.6"/>
<path d="M598.6,1073.7 A81,81 0 0 1 586.53,1072.8 L591.21,1041.75 A49.6,49.6 0 0 0 598.6,1042.3 Z" fill="#3aab6e" stroke="#3aab6e" stroke-width="0.6"/>
<path d="M586.53,1072.8 A81,81 0 0 1 519.63,1010.72 L550.24,1003.74 A49.6,49.6 0 0 0 591.21,1041.75 Z" fill="#6cc391" stroke="#6cc391" stroke-width="0.6"/>
<path d="M519.63,1010.72 A81,81 0 0 1 517.83,986.65 L549.14,988.99 A49.6,49.6 0 0 0 550.24,1003.74 Z" fill="#5cbb88" stroke="#5cbb88" stroke-width="0.6"/>
<path d="M517.83,986.65 A81,81 0 0 1 574.72,915.3 L583.98,945.3 A49.6,49.6 0 0 0 549.14,988.99 Z" fill="#4cb37e" stroke="#4cb37e" stroke-width="0.6"/>
<path d="M574.72,915.3 A81,81 0 0 1 598.6,911.7 L598.6,943.1 A49.6,49.6 0 0 0 583.98,945.3 Z" fill="#2fa866" stroke="#2fa866" stroke-width="0.6"/>
<line x1="598.6" y1="910.9" x2="598.6" y2="943.9" stroke="#fbfff8" stroke-width="1.6"/>
<line x1="634.09" y1="919" x2="619.77" y2="948.73" stroke="#fbfff8" stroke-width="1.6"/>
<line x1="669.44" y1="1033.6" x2="640.86" y2="1017.1" stroke="#fbfff8" stroke-width="1.6"/>
<line x1="598.6" y1="1074.5" x2="598.6" y2="1041.5" stroke="#fbfff8" stroke-width="1.6"/>
<line x1="586.41" y1="1073.59" x2="591.33" y2="1040.95" stroke="#fbfff8" stroke-width="1.6"/>
<line x1="518.85" y1="1010.9" x2="551.02" y2="1003.56" stroke="#fbfff8" stroke-width="1.6"/>
<line x1="517.03" y1="986.59" x2="549.94" y2="989.05" stroke="#fbfff8" stroke-width="1.6"/>
<line x1="574.49" y1="914.53" x2="584.22" y2="946.07" stroke="#fbfff8" stroke-width="1.6"/>
<path d="M803.6,911.7 A81,81 0 0 1 879,1022.29 L849.77,1010.82 A49.6,49.6 0 0 0 803.6,943.1 Z" fill="#789bd0" stroke="#789bd0" stroke-width="0.6"/>
<path d="M879,1022.29 A81,81 0 1 1 803.6,911.7 L803.6,943.1 A49.6,49.6 0 1 0 849.77,1010.82 Z" fill="#2f65b2" stroke="#2f65b2" stroke-width="0.6"/>
<line x1="803.6" y1="910.9" x2="803.6" y2="943.9" stroke="#fbfff8" stroke-width="1.6"/>
<line x1="879.75" y1="1022.58" x2="849.03" y2="1010.53" stroke="#fbfff8" stroke-width="1.6"/>
<path d="M1008,911.7 A81,81 0 0 1 1020.07,912.6 L1015.39,943.65 A49.6,49.6 0 0 0 1008,943.1 Z" fill="#9a44ba" stroke="#9a44ba" stroke-width="0.6"/>
<path d="M1020.07,912.6 A81,81 0 0 1 995.93,1072.8 L1000.61,1041.75 A49.6,49.6 0 0 0 1015.39,943.65 Z" fill="#c697d5" stroke="#c697d5" stroke-width="0.6"/>
<path d="M995.93,1072.8 A81,81 0 0 1 972.86,1065.68 L986.48,1037.39 A49.6,49.6 0 0 0 1000.61,1041.75 Z" fill="#bd89cf" stroke="#bd89cf" stroke-width="0.6"/>
<path d="M972.86,1065.68 A81,81 0 0 1 937.85,1033.2 L965.05,1017.5 A49.6,49.6 0 0 0 986.48,1037.39 Z" fill="#9536b5" stroke="#9536b5" stroke-width="0.6"/>
<path d="M937.85,1033.2 A81,81 0 0 1 927.23,986.65 L958.54,988.99 A49.6,49.6 0 0 0 965.05,1017.5 Z" fill="#b271c8" stroke="#b271c8" stroke-width="0.6"/>
<path d="M927.23,986.65 A81,81 0 0 1 1008,911.7 L1008,943.1 A49.6,49.6 0 0 0 958.54,988.99 Z" fill="#a04fbd" stroke="#a04fbd" stroke-width="0.6"/>
<line x1="1008" y1="910.9" x2="1008" y2="943.9" stroke="#fbfff8" stroke-width="1.6"/>
<line x1="1020.19" y1="911.81" x2="1015.27" y2="944.45" stroke="#fbfff8" stroke-width="1.6"/>
<line x1="995.81" y1="1073.59" x2="1000.73" y2="1040.95" stroke="#fbfff8" stroke-width="1.6"/>
<line x1="972.51" y1="1066.4" x2="986.83" y2="1036.67" stroke="#fbfff8" stroke-width="1.6"/>
<line x1="937.16" y1="1033.6" x2="965.74" y2="1017.1" stroke="#fbfff8" stroke-width="1.6"/>
<line x1="926.43" y1="986.59" x2="959.34" y2="989.05" stroke="#fbfff8" stroke-width="1.6"/>
<rect x="86.7" y="650" width="1023.9" height="35.2" fill="#000"/>
<rect x="23.2" y="685.2" width="63.5" height="409.3" fill="#000"/>
<text transform="translate(189.4,677.3)" font-size="25.5" font-weight="bold" text-anchor="middle" fill="#fff">Gender</text>
<text transform="translate(393.5,677.3)" font-size="25.5" font-weight="bold" text-anchor="middle" fill="#fff">Age</text>
<text transform="translate(598.5,677.3)" font-size="25.5" font-weight="bold" text-anchor="middle" fill="#fff">Protocol</text>
<text transform="translate(803.9,677.3)" font-size="25.5" font-weight="bold" text-anchor="middle" fill="#fff">Metastatic</text>
<text transform="translate(1008.4,677.3)" font-size="25.5" font-weight="bold" text-anchor="middle" fill="#fff">Tumor site</text>
<text transform="translate(50.2,788.6) rotate(-90)" font-size="25" font-weight="bold" fill="#fff" text-anchor="middle">High</text>
<text transform="translate(77.6,788.2) rotate(-90)" font-size="25" font-weight="bold" fill="#fff" text-anchor="middle">(41)</text>
<text transform="translate(50.2,992.7) rotate(-90)" font-size="25" font-weight="bold" fill="#fff" text-anchor="middle">Low</text>
<text transform="translate(77.6,992.6) rotate(-90)" font-size="25" font-weight="bold" fill="#fff" text-anchor="middle">(42)</text>
<text transform="translate(200.2,1101.3)" font-size="15.4">p=0.326</text>
<text transform="translate(410.3,1101.3)" font-size="15.4">p=0.302</text>
<text transform="translate(620.4,1101.3)" font-size="15.4">p=0.766</text>
<text transform="translate(830.5,1101.3)" font-size="15.4">p=0.222</text>
<text transform="translate(1040.6,1101.3)" font-size="15.4">p=0.205</text>
<rect x="1133.1" y="762.9" width="18.7" height="18.6" fill="#cf7a7a"/>
<text transform="translate(1160.7,776.3) scale(1.01,1)" font-size="11.4">Female</text>
<rect x="1133.1" y="785.02" width="18.7" height="18.6" fill="#b73535"/>
<text transform="translate(1160.7,798.42) scale(1.01,1)" font-size="11.4">Male</text>
<rect x="1133.1" y="807.14" width="18.7" height="18.6" fill="#bccb7e"/>
<text transform="translate(1160.7,820.54) scale(1.01,1)" font-size="11.4">&lt;=18</text>
<rect x="1133.1" y="829.26" width="18.7" height="18.6" fill="#9ab037"/>
<text transform="translate(1160.7,842.66) scale(1.01,1)" font-size="11.4">&gt;18</text>
<rect x="1133.1" y="851.38" width="18.7" height="18.6" fill="#96d4b1"/>
<text transform="translate(1160.7,864.78) scale(1.01,1)" font-size="11.4">AOST0121</text>
<rect x="1133.1" y="873.5" width="18.7" height="18.6" fill="#88cfa6"/>
<text transform="translate(1160.7,886.9) scale(1.01,1)" font-size="11.4">AOST0331</text>
<rect x="1133.1" y="895.62" width="18.7" height="18.6" fill="#7bca9b"/>
<text transform="translate(1160.7,909.02) scale(1.01,1)" font-size="11.4">AOST06B1</text>
<rect x="1133.1" y="917.74" width="18.7" height="18.6" fill="#70c493"/>
<text transform="translate(1160.7,931.14) scale(1.01,1)" font-size="11.4">IHRT</text>
<rect x="1133.1" y="939.86" width="18.7" height="18.6" fill="#62bd8a"/>
<text transform="translate(1160.7,953.26) scale(1.01,1)" font-size="11.4">Other osteosarcoma</text>
<rect x="1133.1" y="961.98" width="18.7" height="18.6" fill="#55b782"/>
<text transform="translate(1160.7,975.38) scale(1.01,1)" font-size="11.4">P9754</text>
<rect x="1133.1" y="984.1" width="18.7" height="18.6" fill="#48b17a"/>
<text transform="translate(1160.7,997.5) scale(1.01,1)" font-size="11.4">P9851</text>
<rect x="1133.1" y="1006.22" width="18.7" height="18.6" fill="#3aab70"/>
<text transform="translate(1160.7,1019.62) scale(1.01,1)" font-size="11.4">AOST06P1</text>
<rect x="1273.7" y="762.9" width="18.7" height="18.6" fill="#2ea566"/>
<text transform="translate(1301.2,776.3) scale(1.01,1)" font-size="11.4">STB</text>
<rect x="1273.7" y="785.02" width="18.7" height="18.6" fill="#789bd0"/>
<text transform="translate(1301.2,798.42) scale(1.01,1)" font-size="11.4">Metastatic</text>
<rect x="1273.7" y="807.14" width="18.7" height="18.6" fill="#2f65b2"/>
<text transform="translate(1301.2,820.54) scale(1.01,1)" font-size="11.4">Non−metastatic</text>
<rect x="1273.7" y="829.26" width="18.7" height="18.6" fill="#c797d5"/>
<text transform="translate(1301.2,842.66) scale(1.01,1)" font-size="11.4">Femur</text>
<rect x="1273.7" y="851.38" width="18.7" height="18.6" fill="#bd89cf"/>
<text transform="translate(1301.2,864.78) scale(1.01,1)" font-size="11.4">Fibula</text>
<rect x="1273.7" y="873.5" width="18.7" height="18.6" fill="#b57bca"/>
<text transform="translate(1301.2,886.9) scale(1.01,1)" font-size="11.4">Foot</text>
<rect x="1273.7" y="895.62" width="18.7" height="18.6" fill="#ae6fc7"/>
<text transform="translate(1301.2,909.02) scale(1.01,1)" font-size="11.4">Leg</text>
<rect x="1273.7" y="917.74" width="18.7" height="18.6" fill="#a862c3"/>
<text transform="translate(1301.2,931.14) scale(1.01,1)" font-size="11.4">Radius</text>
<rect x="1273.7" y="939.86" width="18.7" height="18.6" fill="#a14fbe"/>
<text transform="translate(1301.2,953.26) scale(1.01,1)" font-size="11.4">Tibia</text>
<rect x="1273.7" y="961.98" width="18.7" height="18.6" fill="#9a42b9"/>
<text transform="translate(1301.2,975.38) scale(1.01,1)" font-size="11.4">Arm</text>
<rect x="1273.7" y="984.1" width="18.7" height="18.6" fill="#9235b4"/>
<text transform="translate(1301.2,997.5) scale(1.01,1)" font-size="11.4">Humerus</text>
<text transform="translate(167.2,1209.7) scale(1.02,1)" font-size="13.3" font-weight="bold">pvalue</text>
<text transform="translate(370.4,1210.8) scale(1.02,1)" font-size="13.4" font-weight="bold" text-anchor="end">Hazard ratio</text>
<text transform="translate(77.3,1271.3)" font-size="13.9">Gender</text>
<text transform="translate(210.2,1271.3)" font-size="14" text-anchor="end">0.373</text>
<text transform="translate(370.1,1271.3) scale(0.97,1)" font-size="14" text-anchor="end">0.778(0.448−1.351)</text>
<text transform="translate(77.3,1331)" font-size="13.9">Age</text>
<text transform="translate(210.2,1331)" font-size="14" text-anchor="end">0.796</text>
<text transform="translate(370.1,1331) scale(0.97,1)" font-size="14" text-anchor="end">1.008(0.947−1.074)</text>
<text transform="translate(77.3,1390.8)" font-size="13.9">Metastatic</text>
<text transform="translate(210.2,1390.8)" font-size="14" text-anchor="end">0.772</text>
<text transform="translate(370.1,1390.8) scale(0.97,1)" font-size="14" text-anchor="end">0.887(0.395−1.994)</text>
<text transform="translate(77.3,1450.8)" font-size="13.9">Tumor site</text>
<text transform="translate(210.2,1450.8)" font-size="14" text-anchor="end">0.414</text>
<text transform="translate(370.1,1450.8) scale(0.97,1)" font-size="14" text-anchor="end">0.650(0.232−1.826)</text>
<text transform="translate(77.3,1510.5)" font-size="13.9">riskScore</text>
<text transform="translate(210.2,1510.5)" font-size="14" text-anchor="end">&lt;0.001</text>
<text transform="translate(370.1,1510.5) scale(0.97,1)" font-size="14" text-anchor="end">4.387(1.964−9.800)</text>
<line x1="411.4" y1="1518" x2="634.36" y2="1518" stroke="#3a3a3a" stroke-width="1.6"/>
<line x1="411.4" y1="1517.2" x2="411.4" y2="1527" stroke="#3a3a3a" stroke-width="1.6"/>
<text transform="translate(411.4,1543.6) scale(1.04,1)" font-size="16.6" text-anchor="middle">0</text>
<line x1="467.14" y1="1517.2" x2="467.14" y2="1527" stroke="#3a3a3a" stroke-width="1.6"/>
<text transform="translate(467.14,1543.6) scale(1.04,1)" font-size="16.6" text-anchor="middle">2</text>
<line x1="522.88" y1="1517.2" x2="522.88" y2="1527" stroke="#3a3a3a" stroke-width="1.6"/>
<text transform="translate(522.88,1543.6) scale(1.04,1)" font-size="16.6" text-anchor="middle">4</text>
<line x1="578.62" y1="1517.2" x2="578.62" y2="1527" stroke="#3a3a3a" stroke-width="1.6"/>
<text transform="translate(578.62,1543.6) scale(1.04,1)" font-size="16.6" text-anchor="middle">6</text>
<line x1="634.36" y1="1517.2" x2="634.36" y2="1527" stroke="#3a3a3a" stroke-width="1.6"/>
<text transform="translate(634.36,1543.6) scale(1.04,1)" font-size="16.6" text-anchor="middle">8</text>
<text transform="translate(548.26,1572.9) scale(1.01,1)" font-size="16.1" text-anchor="middle">Hazard ratio</text>
<line x1="439.27" y1="1200.8" x2="439.27" y2="1518" stroke="#000" stroke-width="2.5" stroke-dasharray="7.6,8.6"/>
<line x1="423.89" y1="1266.5" x2="449.05" y2="1266.5" stroke="#0b0b6b" stroke-width="3"/>
<line x1="423.89" y1="1260.9" x2="423.89" y2="1272.1" stroke="#0b0b6b" stroke-width="3"/>
<line x1="449.05" y1="1260.9" x2="449.05" y2="1272.1" stroke="#0b0b6b" stroke-width="3"/>
<rect x="425.78" y="1259.3" width="14.6" height="14.4" fill="#00cc00"/>
<line x1="437.79" y1="1326.3" x2="441.33" y2="1326.3" stroke="#0b0b6b" stroke-width="3"/>
<line x1="437.79" y1="1320.7" x2="437.79" y2="1331.9" stroke="#0b0b6b" stroke-width="3"/>
<line x1="441.33" y1="1320.7" x2="441.33" y2="1331.9" stroke="#0b0b6b" stroke-width="3"/>
<rect x="432.19" y="1319.1" width="14.6" height="14.4" fill="#00cc00"/>
<line x1="422.41" y1="1386" x2="466.97" y2="1386" stroke="#0b0b6b" stroke-width="3"/>
<line x1="422.41" y1="1380.4" x2="422.41" y2="1391.6" stroke="#0b0b6b" stroke-width="3"/>
<line x1="466.97" y1="1380.4" x2="466.97" y2="1391.6" stroke="#0b0b6b" stroke-width="3"/>
<rect x="428.82" y="1378.8" width="14.6" height="14.4" fill="#00cc00"/>
<line x1="417.87" y1="1446" x2="462.29" y2="1446" stroke="#0b0b6b" stroke-width="3"/>
<line x1="417.87" y1="1440.4" x2="417.87" y2="1451.6" stroke="#0b0b6b" stroke-width="3"/>
<line x1="462.29" y1="1440.4" x2="462.29" y2="1451.6" stroke="#0b0b6b" stroke-width="3"/>
<rect x="422.22" y="1438.8" width="14.6" height="14.4" fill="#00cc00"/>
<line x1="466.14" y1="1506" x2="684.53" y2="1506" stroke="#0b0b6b" stroke-width="3"/>
<line x1="466.14" y1="1500.4" x2="466.14" y2="1511.6" stroke="#0b0b6b" stroke-width="3"/>
<line x1="684.53" y1="1500.4" x2="684.53" y2="1511.6" stroke="#0b0b6b" stroke-width="3"/>
<rect x="526.37" y="1498.8" width="14.6" height="14.4" fill="#00cc00"/>
<text transform="translate(854.2,1209.7) scale(1.02,1)" font-size="13.3" font-weight="bold">pvalue</text>
<text transform="translate(1057.4,1210.8) scale(1.02,1)" font-size="13.4" font-weight="bold" text-anchor="end">Hazard ratio</text>
<text transform="translate(764.3,1271.3)" font-size="13.9">Gender</text>
<text transform="translate(897.2,1271.3)" font-size="14" text-anchor="end">0.683</text>
<text transform="translate(1057.1,1271.3) scale(0.97,1)" font-size="14" text-anchor="end">1.163(0.564−2.398)</text>
<text transform="translate(764.3,1331)" font-size="13.9">Age</text>
<text transform="translate(897.2,1331)" font-size="14" text-anchor="end">0.706</text>
<text transform="translate(1057.1,1331) scale(0.97,1)" font-size="14" text-anchor="end">1.015(0.941−1.094)</text>
<text transform="translate(764.3,1390.8)" font-size="13.9">Metastatic</text>
<text transform="translate(897.2,1390.8)" font-size="14" text-anchor="end">0.783</text>
<text transform="translate(1057.1,1390.8) scale(0.97,1)" font-size="14" text-anchor="end">1.125(0.487−2.600)</text>
<text transform="translate(764.3,1450.8)" font-size="13.9">`Tumor site`</text>
<text transform="translate(897.2,1450.8)" font-size="14" text-anchor="end">0.033</text>
<text transform="translate(1057.1,1450.8) scale(0.97,1)" font-size="14" text-anchor="end">0.284(0.089−0.906)</text>
<text transform="translate(764.3,1510.5)" font-size="13.9">riskScore</text>
<text transform="translate(897.2,1510.5)" font-size="14" text-anchor="end">&lt;0.001</text>
<text transform="translate(1057.1,1510.5) scale(0.97,1)" font-size="14" text-anchor="end">6.276(2.389−16.487)</text>
<line x1="1098.7" y1="1518" x2="1346.8" y2="1518" stroke="#3a3a3a" stroke-width="1.6"/>
<line x1="1098.7" y1="1517.2" x2="1098.7" y2="1527" stroke="#3a3a3a" stroke-width="1.6"/>
<text transform="translate(1098.7,1543.6) scale(1.04,1)" font-size="16.6" text-anchor="middle">0</text>
<line x1="1181.4" y1="1517.2" x2="1181.4" y2="1527" stroke="#3a3a3a" stroke-width="1.6"/>
<text transform="translate(1181.4,1543.6) scale(1.04,1)" font-size="16.6" text-anchor="middle">5</text>
<line x1="1264.1" y1="1517.2" x2="1264.1" y2="1527" stroke="#3a3a3a" stroke-width="1.6"/>
<text transform="translate(1264.1,1543.6) scale(1.04,1)" font-size="16.6" text-anchor="middle">10</text>
<line x1="1346.8" y1="1517.2" x2="1346.8" y2="1527" stroke="#3a3a3a" stroke-width="1.6"/>
<text transform="translate(1346.8,1543.6) scale(1.04,1)" font-size="16.6" text-anchor="middle">15</text>
<text transform="translate(1235.35,1572.9) scale(1.01,1)" font-size="16.1" text-anchor="middle">Hazard ratio</text>
<line x1="1115.24" y1="1200.8" x2="1115.24" y2="1518" stroke="#000" stroke-width="2.5" stroke-dasharray="7.6,8.6"/>
<line x1="1108.03" y1="1266.5" x2="1138.36" y2="1266.5" stroke="#0b0b6b" stroke-width="3"/>
<line x1="1108.03" y1="1260.9" x2="1108.03" y2="1272.1" stroke="#0b0b6b" stroke-width="3"/>
<line x1="1138.36" y1="1260.9" x2="1138.36" y2="1272.1" stroke="#0b0b6b" stroke-width="3"/>
<rect x="1110.64" y="1259.3" width="14.6" height="14.4" fill="#ff0000"/>
<line x1="1114.26" y1="1326.3" x2="1116.79" y2="1326.3" stroke="#0b0b6b" stroke-width="3"/>
<line x1="1114.26" y1="1320.7" x2="1114.26" y2="1331.9" stroke="#0b0b6b" stroke-width="3"/>
<line x1="1116.79" y1="1320.7" x2="1116.79" y2="1331.9" stroke="#0b0b6b" stroke-width="3"/>
<rect x="1108.19" y="1319.1" width="14.6" height="14.4" fill="#ff0000"/>
<line x1="1106.75" y1="1386" x2="1141.7" y2="1386" stroke="#0b0b6b" stroke-width="3"/>
<line x1="1106.75" y1="1380.4" x2="1106.75" y2="1391.6" stroke="#0b0b6b" stroke-width="3"/>
<line x1="1141.7" y1="1380.4" x2="1141.7" y2="1391.6" stroke="#0b0b6b" stroke-width="3"/>
<rect x="1110.01" y="1378.8" width="14.6" height="14.4" fill="#ff0000"/>
<line x1="1100.17" y1="1446" x2="1113.69" y2="1446" stroke="#0b0b6b" stroke-width="3"/>
<line x1="1100.17" y1="1440.4" x2="1100.17" y2="1451.6" stroke="#0b0b6b" stroke-width="3"/>
<line x1="1113.69" y1="1440.4" x2="1113.69" y2="1451.6" stroke="#0b0b6b" stroke-width="3"/>
<rect x="1096.1" y="1438.8" width="14.6" height="14.4" fill="#ff0000"/>
<line x1="1138.21" y1="1506" x2="1371.39" y2="1506" stroke="#0b0b6b" stroke-width="3"/>
<line x1="1138.21" y1="1500.4" x2="1138.21" y2="1511.6" stroke="#0b0b6b" stroke-width="3"/>
<line x1="1371.39" y1="1500.4" x2="1371.39" y2="1511.6" stroke="#0b0b6b" stroke-width="3"/>
<rect x="1195.21" y="1498.8" width="14.6" height="14.4" fill="#ff0000"/>
<rect x="131.5" y="1720" width="516" height="432.5" fill="none" stroke="#000" stroke-width="1.9"/>
<line x1="151.1" y1="2152.5" x2="151.1" y2="2166.2" stroke="#000" stroke-width="1.9"/>
<text transform="translate(150.5,2201.8)" font-size="23.3" text-anchor="middle">0.0</text>
<line x1="117.5" y1="2136.4" x2="131.5" y2="2136.4" stroke="#000" stroke-width="1.9"/>
<text transform="translate(99.9,2136.4) rotate(-90)" font-size="23.3" text-anchor="middle">0.0</text>
<line x1="246.5" y1="2152.5" x2="246.5" y2="2166.2" stroke="#000" stroke-width="1.9"/>
<text transform="translate(245.9,2201.8)" font-size="23.3" text-anchor="middle">0.2</text>
<line x1="117.5" y1="2056.28" x2="131.5" y2="2056.28" stroke="#000" stroke-width="1.9"/>
<text transform="translate(99.9,2056.28) rotate(-90)" font-size="23.3" text-anchor="middle">0.2</text>
<line x1="341.9" y1="2152.5" x2="341.9" y2="2166.2" stroke="#000" stroke-width="1.9"/>
<text transform="translate(341.3,2201.8)" font-size="23.3" text-anchor="middle">0.4</text>
<line x1="117.5" y1="1976.16" x2="131.5" y2="1976.16" stroke="#000" stroke-width="1.9"/>
<text transform="translate(99.9,1976.16) rotate(-90)" font-size="23.3" text-anchor="middle">0.4</text>
<line x1="437.3" y1="2152.5" x2="437.3" y2="2166.2" stroke="#000" stroke-width="1.9"/>
<text transform="translate(436.7,2201.8)" font-size="23.3" text-anchor="middle">0.6</text>
<line x1="117.5" y1="1896.04" x2="131.5" y2="1896.04" stroke="#000" stroke-width="1.9"/>
<text transform="translate(99.9,1896.04) rotate(-90)" font-size="23.3" text-anchor="middle">0.6</text>
<line x1="532.7" y1="2152.5" x2="532.7" y2="2166.2" stroke="#000" stroke-width="1.9"/>
<text transform="translate(532.1,2201.8)" font-size="23.3" text-anchor="middle">0.8</text>
<line x1="117.5" y1="1815.92" x2="131.5" y2="1815.92" stroke="#000" stroke-width="1.9"/>
<text transform="translate(99.9,1815.92) rotate(-90)" font-size="23.3" text-anchor="middle">0.8</text>
<line x1="628.1" y1="2152.5" x2="628.1" y2="2166.2" stroke="#000" stroke-width="1.9"/>
<text transform="translate(627.5,2201.8)" font-size="23.3" text-anchor="middle">1.0</text>
<line x1="117.5" y1="1735.8" x2="131.5" y2="1735.8" stroke="#000" stroke-width="1.9"/>
<text transform="translate(99.9,1735.8) rotate(-90)" font-size="23.3" text-anchor="middle">1.0</text>
<text transform="translate(44.3,1936.8) rotate(-90)" font-size="22.4" text-anchor="middle">Sensitivity</text>
<text transform="translate(388.4,2255.9) scale(1.03,1)" font-size="22.2" text-anchor="middle">1−Specificity</text>
<line x1="131.5" y1="2152.5" x2="647.5" y2="1720" stroke="#000" stroke-width="2" stroke-dasharray="6.2,5.8"/>
<polyline points="151.1,2136.4 236.72,2136.4 236.72,1934.1 350.01,1934.1 350.01,1735.8 628.1,1735.8 628.1,1735.8" fill="none" stroke="#d80c0c" stroke-width="2.8" stroke-linejoin="round" stroke-linecap="round"/>
<polyline points="151.1,2136.4 178.91,2136.4 178.91,2091.93 237.91,2091.93 237.91,2025.99 279.89,2025.99 279.89,1924.08 311.37,1924.08 311.37,1902.05 322.34,1902.05 322.34,1878.01 332.84,1878.01 332.84,1857.58 397.52,1857.58 397.52,1831.94 408.68,1831.94 408.68,1808.11 430.62,1808.11 430.62,1759.44 498.36,1759.44 498.36,1735.8 628.1,1735.8 628.1,1735.8" fill="none" stroke="#f0c318" stroke-width="2.8" stroke-linejoin="round" stroke-linecap="round"/>
<polyline points="151.1,2136.4 165.41,2136.4 165.41,2122.9 179.91,2122.9 179.91,2100.71 195.17,2100.71 195.17,2058.6 211.3,2058.6 211.3,1902.81 228.28,1902.81 228.28,1877.29 245.31,1877.29 245.31,1865.91 262.29,1865.91 262.29,1841 296.58,1841 296.58,1825.61 314,1825.61 314,1813.32 331.5,1813.32 331.5,1801.3 366.18,1801.3 366.18,1777.18 384.69,1777.18 384.69,1762.8 457.19,1762.8 457.19,1735.8 628.1,1735.8 628.1,1735.8" fill="none" stroke="#08a520" stroke-width="2.8" stroke-linejoin="round" stroke-linecap="round"/>
<line x1="350.6" y1="2070.5" x2="393.7" y2="2070.5" stroke="#d80c0c" stroke-width="2.8" stroke-linecap="round"/>
<text transform="translate(413.4,2078.2) scale(1.02,1)" font-size="22.2">AUC at 1 years: 0.702</text>
<line x1="350.6" y1="2097.75" x2="393.7" y2="2097.75" stroke="#f0c318" stroke-width="2.8" stroke-linecap="round"/>
<text transform="translate(413.4,2105.45) scale(1.02,1)" font-size="22.2">AUC at 3 years: 0.655</text>
<line x1="350.6" y1="2125" x2="393.7" y2="2125" stroke="#08a520" stroke-width="2.8" stroke-linecap="round"/>
<text transform="translate(413.4,2132.7) scale(1.02,1)" font-size="22.2">AUC at 5 years: 0.784</text>
<rect x="816" y="1720" width="516" height="432.5" fill="none" stroke="#000" stroke-width="1.9"/>
<line x1="835.6" y1="2152.5" x2="835.6" y2="2166.2" stroke="#000" stroke-width="1.9"/>
<text transform="translate(835,2201.8)" font-size="23.3" text-anchor="middle">0.0</text>
<line x1="802" y1="2136.4" x2="816" y2="2136.4" stroke="#000" stroke-width="1.9"/>
<text transform="translate(784.4,2136.4) rotate(-90)" font-size="23.3" text-anchor="middle">0.0</text>
<line x1="931" y1="2152.5" x2="931" y2="2166.2" stroke="#000" stroke-width="1.9"/>
<text transform="translate(930.4,2201.8)" font-size="23.3" text-anchor="middle">0.2</text>
<line x1="802" y1="2056.28" x2="816" y2="2056.28" stroke="#000" stroke-width="1.9"/>
<text transform="translate(784.4,2056.28) rotate(-90)" font-size="23.3" text-anchor="middle">0.2</text>
<line x1="1026.4" y1="2152.5" x2="1026.4" y2="2166.2" stroke="#000" stroke-width="1.9"/>
<text transform="translate(1025.8,2201.8)" font-size="23.3" text-anchor="middle">0.4</text>
<line x1="802" y1="1976.16" x2="816" y2="1976.16" stroke="#000" stroke-width="1.9"/>
<text transform="translate(784.4,1976.16) rotate(-90)" font-size="23.3" text-anchor="middle">0.4</text>
<line x1="1121.8" y1="2152.5" x2="1121.8" y2="2166.2" stroke="#000" stroke-width="1.9"/>
<text transform="translate(1121.2,2201.8)" font-size="23.3" text-anchor="middle">0.6</text>
<line x1="802" y1="1896.04" x2="816" y2="1896.04" stroke="#000" stroke-width="1.9"/>
<text transform="translate(784.4,1896.04) rotate(-90)" font-size="23.3" text-anchor="middle">0.6</text>
<line x1="1217.2" y1="2152.5" x2="1217.2" y2="2166.2" stroke="#000" stroke-width="1.9"/>
<text transform="translate(1216.6,2201.8)" font-size="23.3" text-anchor="middle">0.8</text>
<line x1="802" y1="1815.92" x2="816" y2="1815.92" stroke="#000" stroke-width="1.9"/>
<text transform="translate(784.4,1815.92) rotate(-90)" font-size="23.3" text-anchor="middle">0.8</text>
<line x1="1312.6" y1="2152.5" x2="1312.6" y2="2166.2" stroke="#000" stroke-width="1.9"/>
<text transform="translate(1312,2201.8)" font-size="23.3" text-anchor="middle">1.0</text>
<line x1="802" y1="1735.8" x2="816" y2="1735.8" stroke="#000" stroke-width="1.9"/>
<text transform="translate(784.4,1735.8) rotate(-90)" font-size="23.3" text-anchor="middle">1.0</text>
<text transform="translate(728.8,1936.8) rotate(-90)" font-size="22.4" text-anchor="middle">Sensitivity</text>
<text transform="translate(1072.9,2255.9) scale(1.03,1)" font-size="22.2" text-anchor="middle">1−Specificity</text>
<line x1="816" y1="2152.5" x2="1332" y2="1720" stroke="#000" stroke-width="2"/>
<polyline points="835.6,2136.4 849.91,2136.4 849.91,2122.9 864.41,2122.9 864.41,2100.71 879.67,2100.71 879.67,2058.6 895.8,2058.6 895.8,1902.81 912.78,1902.81 912.78,1877.29 929.81,1877.29 929.81,1865.91 946.79,1865.91 946.79,1841 981.09,1841 981.09,1825.61 998.5,1825.61 998.5,1813.32 1016,1813.32 1016,1801.3 1050.68,1801.3 1050.68,1777.18 1069.19,1777.18 1069.19,1762.8 1141.69,1762.8 1141.69,1735.8 1312.6,1735.8 1312.6,1735.8" fill="none" stroke="#d80c0c" stroke-width="2.8" stroke-linejoin="round" stroke-linecap="round"/>
<polyline points="835.6,2136.4 883.3,2096.34 931,2056.28 978.7,2020.23 1026.4,1988.18 1074.1,1954.13 1121.8,1914.07 1169.5,1872 1217.2,1827.94 1264.9,1779.87 1288.75,1757.83 1312.6,1735.8" fill="none" stroke="#f0c318" stroke-width="2.8" stroke-linejoin="round" stroke-linecap="round"/>
<polyline points="835.6,2136.4 835.6,2113.17 866.13,2113.17 867.8,2076.31 884.73,2067.5 884.73,2040.66 901.43,2040.66 901.43,2028.64 987.29,2028.64 987.29,2013.82 1021.92,2002.8 1021.92,1944.91 1039.28,1944.91 1039.28,1904.05 1075.05,1904.05 1075.05,1863.19 1111.31,1863.19 1111.31,1841.16 1128.48,1841.16 1128.48,1801.5 1147.08,1801.5 1147.08,1786.68 1201.46,1786.68 1201.46,1775.06 1294.47,1775.06 1294.47,1763.44 1312.6,1763.44 1312.6,1735.8" fill="none" stroke="#08a520" stroke-width="2.8" stroke-linejoin="round" stroke-linecap="round"/>
<polyline points="835.6,2136.4 883.3,2098.34 931,2060.29 978.7,2020.23 1026.4,1980.17 1074.1,1940.11 1121.8,1899.24 1169.5,1857.98 1217.2,1815.92 1264.9,1773.86 1288.75,1753.83 1312.6,1735.8" fill="none" stroke="#08bde8" stroke-width="2.8" stroke-linejoin="round" stroke-linecap="round"/>
<polyline points="835.6,2136.4 883.3,2096.34 931,2055.48 978.7,2014.22 1026.4,1974.16 1074.1,1933.3 1121.8,1892.03 1169.5,1851.17 1217.2,1808.71 1264.9,1767.85 1276.83,1759.03 1293.52,1747.82 1312.6,1735.8" fill="none" stroke="#0206aa" stroke-width="2.8" stroke-linejoin="round" stroke-linecap="round"/>
<line x1="1024.8" y1="2015.2" x2="1065.8" y2="2015.2" stroke="#d80c0c" stroke-width="2.8" stroke-linecap="round"/>
<text transform="translate(1086.4,2023.3) scale(1.03,1)" font-size="22">Risk, AUC=0.784</text>
<line x1="1024.8" y1="2042.62" x2="1065.8" y2="2042.62" stroke="#f0c318" stroke-width="2.8" stroke-linecap="round"/>
<text transform="translate(1086.4,2050.72) scale(1.03,1)" font-size="22">Gender, AUC=0.482</text>
<line x1="1024.8" y1="2070.04" x2="1065.8" y2="2070.04" stroke="#08a520" stroke-width="2.8" stroke-linecap="round"/>
<text transform="translate(1086.4,2078.14) scale(1.03,1)" font-size="22">Age, AUC=0.572</text>
<line x1="1024.8" y1="2097.46" x2="1065.8" y2="2097.46" stroke="#08bde8" stroke-width="2.8" stroke-linecap="round"/>
<text transform="translate(1086.4,2105.56) scale(1.03,1)" font-size="22">Metastatic, AUC=0.491</text>
<line x1="1024.8" y1="2124.88" x2="1065.8" y2="2124.88" stroke="#0206aa" stroke-width="2.8" stroke-linecap="round"/>
<text transform="translate(1086.4,2132.98) scale(1.03,1)" font-size="22">Tumor site, AUC=0.507</text>
</svg></body></html>
